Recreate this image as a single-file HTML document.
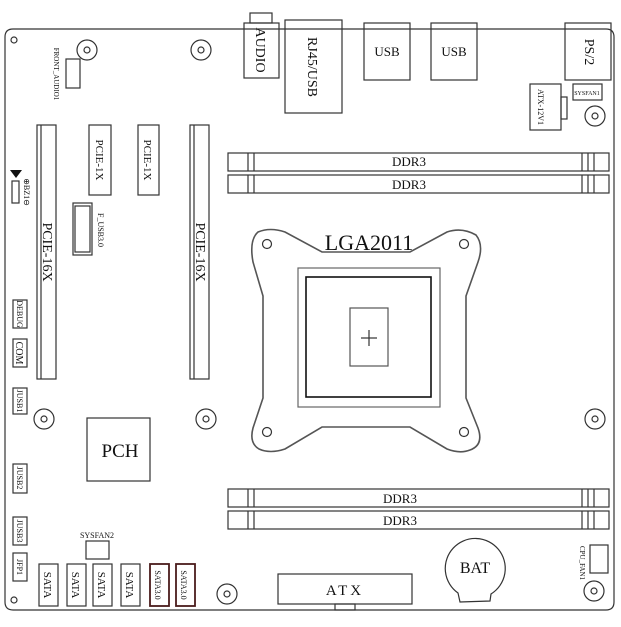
<!DOCTYPE html>
<html><head><meta charset="utf-8"><style>
html,body{margin:0;padding:0;background:#fff;width:621px;height:627px;overflow:hidden}
svg{display:block}
text{font-family:"Liberation Serif",serif;fill:#111}
</style></head><body>
<svg width="621" height="627" viewBox="0 0 621 627" xmlns="http://www.w3.org/2000/svg">
<g fill="none" stroke="#333" stroke-width="1.2">
<path d="M13,29 H606 Q614,29 614,37 V602 Q614,610 606,610 H13 Q5,610 5,602 V37 Q5,29 13,29 Z"/>
<circle cx="14" cy="40" r="3"/><circle cx="14" cy="600" r="3"/>
<g>
<circle cx="87" cy="50" r="10"/><circle cx="87" cy="50" r="3"/>
<circle cx="201" cy="50" r="10"/><circle cx="201" cy="50" r="3"/>
<circle cx="595" cy="116" r="10"/><circle cx="595" cy="116" r="3"/>
<circle cx="44" cy="419" r="10"/><circle cx="44" cy="419" r="3"/>
<circle cx="206" cy="419" r="10"/><circle cx="206" cy="419" r="3"/>
<circle cx="595" cy="419" r="10"/><circle cx="595" cy="419" r="3"/>
<circle cx="227" cy="594" r="10"/><circle cx="227" cy="594" r="3"/>
<circle cx="594" cy="591" r="10"/><circle cx="594" cy="591" r="3"/>
</g>
<rect x="250" y="13" width="22" height="10"/>
<rect x="244" y="23" width="35" height="55"/>
<rect x="285" y="20" width="57" height="93"/>
<rect x="364" y="23" width="46" height="57"/>
<rect x="431" y="23" width="46" height="57"/>
<rect x="565" y="23" width="46" height="57"/>
<rect x="530" y="84" width="31" height="46"/>
<rect x="561" y="97" width="6" height="22"/>
<rect x="573" y="84" width="29" height="16"/>
<g>
<rect x="228" y="153" width="381" height="18"/><line x1="248" y1="153" x2="248" y2="171"/><line x1="254" y1="153" x2="254" y2="171"/><line x1="582" y1="153" x2="582" y2="171"/><line x1="588" y1="153" x2="588" y2="171"/><line x1="594" y1="153" x2="594" y2="171"/>
<rect x="228" y="175" width="381" height="18"/><line x1="248" y1="175" x2="248" y2="193"/><line x1="254" y1="175" x2="254" y2="193"/><line x1="582" y1="175" x2="582" y2="193"/><line x1="588" y1="175" x2="588" y2="193"/><line x1="594" y1="175" x2="594" y2="193"/>
<rect x="228" y="489" width="381" height="18"/><line x1="248" y1="489" x2="248" y2="507"/><line x1="254" y1="489" x2="254" y2="507"/><line x1="582" y1="489" x2="582" y2="507"/><line x1="588" y1="489" x2="588" y2="507"/><line x1="594" y1="489" x2="594" y2="507"/>
<rect x="228" y="511" width="381" height="18"/><line x1="248" y1="511" x2="248" y2="529"/><line x1="254" y1="511" x2="254" y2="529"/><line x1="582" y1="511" x2="582" y2="529"/><line x1="588" y1="511" x2="588" y2="529"/><line x1="594" y1="511" x2="594" y2="529"/>
</g>
<rect x="66" y="59" width="14" height="29"/>
<rect x="37" y="125" width="19" height="254"/><line x1="41" y1="125" x2="41" y2="379"/>
<rect x="190" y="125" width="19" height="254"/><line x1="194" y1="125" x2="194" y2="379"/>
<rect x="89" y="125" width="22" height="70"/>
<rect x="138" y="125" width="21" height="70"/>
<rect x="73" y="203" width="19" height="52"/><rect x="75" y="206" width="15" height="46"/>
<rect x="12" y="181" width="7" height="22"/>
<rect x="13" y="300" width="14" height="28"/>
<rect x="13" y="339" width="14" height="28"/>
<rect x="13" y="388" width="14" height="26"/>
<rect x="13" y="464" width="14" height="29"/>
<rect x="13" y="517" width="14" height="28"/>
<rect x="13" y="553" width="14" height="28"/>
<rect x="87" y="418" width="63" height="63"/>
<rect x="86" y="541" width="23" height="18"/>
<rect x="39" y="564" width="19" height="42"/>
<rect x="67" y="564" width="19" height="42"/>
<rect x="93" y="564" width="19" height="42"/>
<rect x="121" y="564" width="19" height="42"/>
<rect x="150" y="564" width="19" height="42" stroke="#4a1c1c" stroke-width="1.8"/>
<rect x="176" y="564" width="19" height="42" stroke="#4a1c1c" stroke-width="1.8"/>
<path d="M258,232 Q270,227 285,232 L322,252 L410,252 L447,232 Q462,227 476,235 Q484,245 478,262 L466,296 L466,398 L478,428 Q484,445 470,450 Q460,454 447,449 L410,427 L322,427 L285,449 Q270,454 259,449 Q249,443 253,428 L263,398 L263,296 L253,262 Q249,240 258,232 Z" stroke="#555" stroke-width="1.6"/>
<circle cx="267" cy="244" r="4.5"/><circle cx="464" cy="244" r="4.5"/><circle cx="267" cy="432" r="4.5"/><circle cx="464" cy="432" r="4.5"/>
<rect x="298" y="268" width="142" height="139" stroke="#666"/>
<rect x="306" y="277" width="125" height="120" stroke="#111" stroke-width="1.6"/>
<rect x="350" y="308" width="38" height="58" stroke="#555"/>
<line x1="361" y1="338" x2="377" y2="338"/><line x1="369" y1="330" x2="369" y2="346"/>
<rect x="278" y="574" width="134" height="30"/>
<rect x="335" y="604" width="20" height="6"/>
<path d="M458,593 A30,30 0 1 1 491,594 L490,601 L460,602 Z" fill="#fff"/>
<rect x="590" y="545" width="18" height="28"/>
</g>
<path d="M10,170 L22,170 L16,178 Z" fill="#111"/>
<g font-size="13">
<text x="409" y="166" text-anchor="middle">DDR3</text>
<text x="409" y="189" text-anchor="middle">DDR3</text>
<text x="400" y="503" text-anchor="middle">DDR3</text>
<text x="400" y="525" text-anchor="middle">DDR3</text>
<text x="387" y="56" text-anchor="middle">USB</text>
<text x="454" y="56" text-anchor="middle">USB</text>
</g>
<text x="369" y="250" text-anchor="middle" font-size="22">LGA2011</text>
<text x="120" y="457" text-anchor="middle" font-size="19">PCH</text>
<text x="475" y="573" text-anchor="middle" font-size="16">BAT</text>
<text x="345" y="595" text-anchor="middle" font-size="15" letter-spacing="3">ATX</text>
<text x="97" y="538" text-anchor="middle" font-size="8">SYSFAN2</text>
<g font-size="14">
<text transform="translate(256,50) rotate(90)" text-anchor="middle">AUDIO</text>
<text transform="translate(308,67) rotate(90)" text-anchor="middle">RJ45/USB</text>
<text transform="translate(585,52) rotate(90)" text-anchor="middle">PS/2</text>
<text transform="translate(43,252) rotate(90)" text-anchor="middle">PCIE-16X</text>
<text transform="translate(196,252) rotate(90)" text-anchor="middle">PCIE-16X</text>
</g>
<g font-size="11">
<text transform="translate(96,160) rotate(90)" text-anchor="middle">PCIE-1X</text>
<text transform="translate(144,160) rotate(90)" text-anchor="middle">PCIE-1X</text>
<text transform="translate(44,585) rotate(90)" text-anchor="middle">SATA</text>
<text transform="translate(72,585) rotate(90)" text-anchor="middle">SATA</text>
<text transform="translate(98,585) rotate(90)" text-anchor="middle">SATA</text>
<text transform="translate(126,585) rotate(90)" text-anchor="middle">SATA</text>
</g>
<g font-size="8">
<text transform="translate(155,585) rotate(90)" text-anchor="middle">SATA3.0</text>
<text transform="translate(181,585) rotate(90)" text-anchor="middle">SATA3.0</text>
<text transform="translate(17,314) rotate(90)" text-anchor="middle">DEBUG</text>
<text transform="translate(16,353) rotate(90)" text-anchor="middle" font-size="10">COM</text>
<text transform="translate(17,401) rotate(90)" text-anchor="middle">JUSB1</text>
<text transform="translate(17,478) rotate(90)" text-anchor="middle">JUSB2</text>
<text transform="translate(17,531) rotate(90)" text-anchor="middle">JUSB3</text>
<text transform="translate(17,567) rotate(90)" text-anchor="middle">JFP1</text>
<text transform="translate(98,230) rotate(90)" text-anchor="middle">F_USB3.0</text>
<text transform="translate(24,192) rotate(90)" text-anchor="middle">⊕BZ1⊖</text>
<text transform="translate(54,74) rotate(90)" text-anchor="middle" font-size="7">FRONT_AUDIO1</text>
<text transform="translate(538,107) rotate(90)" text-anchor="middle">ATX-12V1</text>
<text transform="translate(580,563) rotate(90)" text-anchor="middle" font-size="7">CPU_FAN1</text>
<text x="587" y="95" text-anchor="middle" font-size="6">SYSFAN1</text>
</g>
</svg>
</body></html>
